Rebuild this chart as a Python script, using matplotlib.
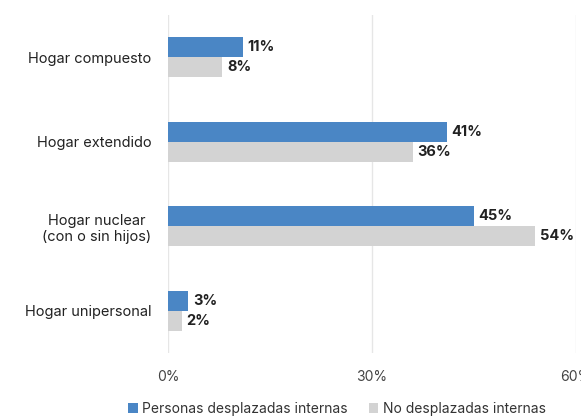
import matplotlib
matplotlib.use("Agg")
import matplotlib.pyplot as plt
import numpy as np

categories = ["Hogar compuesto", "Hogar extendido", "Hogar nuclear\n(con o sin hijos)", "Hogar unipersonal"]
desplazadas = [11, 41, 45, 3]
no_desplazadas = [8, 36, 54, 2]
series_names = ["Personas desplazadas internas", "No desplazadas internas"]
colors = ["#4a86c5", "#d3d3d3"]

plt.rcParams['font.family'] = ['Inter', 'DejaVu Sans']

fig = plt.figure(figsize=(5.81, 4.16), dpi=100)
ax = fig.add_axes([0.289, 0.151, 0.702, 0.813])

y = np.arange(len(categories))
h = 0.235
ax.barh(y - h / 2, desplazadas, height=h, color=colors[0], label=series_names[0], zorder=3)
ax.barh(y + h / 2, no_desplazadas, height=h, color=colors[1], label=series_names[1], zorder=3)

for i in range(len(categories)):
    ax.text(desplazadas[i] + 0.7, y[i] - h / 2, f"{desplazadas[i]}%", va="center", ha="left",
            fontsize=10.5, fontweight="bold", color="#222222")
    ax.text(no_desplazadas[i] + 0.7, y[i] + h / 2, f"{no_desplazadas[i]}%", va="center", ha="left",
            fontsize=10.5, fontweight="bold", color="#222222")

ax.set_xlim(0, 60)
ax.set_ylim(3.5, -0.5)
ax.set_xticks([0, 30, 60])
ax.set_xticklabels(["0%", "30%", "60%"])
ax.set_yticks(y)
ax.set_yticklabels(categories, fontsize=10.5, color="#222222")
for lbl in ax.get_yticklabels():
    lbl.set_multialignment("center")
ax.tick_params(axis="x", labelsize=10, colors="#444444", length=0, pad=12)
ax.tick_params(axis="y", length=0, pad=12)
ax.grid(axis="x", color="#e6e6e6", linewidth=1, zorder=0)
for s in ax.spines.values():
    s.set_visible(False)

fig.legend(loc="center", bbox_to_anchor=(0.58, 0.018), ncol=2, frameon=False, fontsize=10,
           handlelength=0.7, handleheight=0.7, handletextpad=0.3, columnspacing=1.5,
           labelcolor="#333333")

fig.savefig("out.png", dpi=100)
